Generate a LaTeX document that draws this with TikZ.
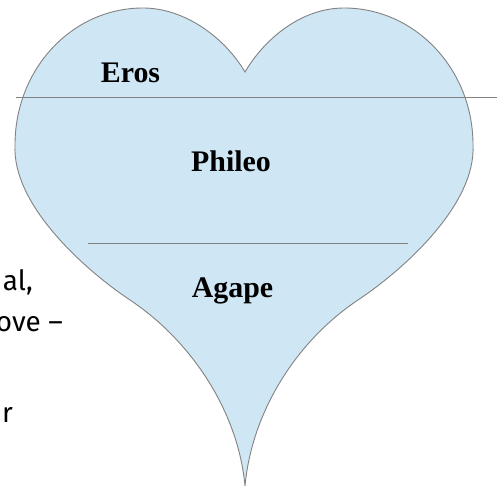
\documentclass[tikz,border=0pt]{standalone}
\usepackage{fontspec}
\setmainfont{Liberation Serif}
\newfontfamily\sidefont{Fira Sans}
\definecolor{heartfill}{RGB}{207,230,244}
\definecolor{heartline}{RGB}{130,130,130}
\begin{document}
\begin{tikzpicture}[x=1bp,y=-1bp,
  lbl/.style={font=\fontsize{30}{36}\selectfont\bfseries, inner sep=0pt, anchor=base},
  side/.style={font=\sidefont\fontsize{28}{34}\selectfont, inner sep=0pt, anchor=base east},
  divider/.style={draw=heartline, line width=0.9bp}]
\useasboundingbox (0,0) rectangle (497,487);
\path[fill=heartfill, draw=heartline, line width=0.9bp]
  (245,486) .. controls (238,410) and (190,340) .. (130,300)
  .. controls (85,270) and (12,205) .. (15,145)
  .. controls (15,69) and (72,8) .. (143,8)
  .. controls (185,8) and (225,38) .. (245,72)
  .. controls (265,38) and (302,8) .. (344,8)
  .. controls (415,8) and (473,69) .. (473,145)
  .. controls (476,205) and (403,270) .. (358,300)
  .. controls (298,340) and (252,410) .. (245,486) -- cycle;
\coordinate (d1a) at (16,97);
\coordinate (d1b) at (497,97);
\coordinate (d2a) at (88,243);
\coordinate (d2b) at (408,243);
\draw[divider] (d1a) -- (d1b);
\draw[divider] (d2a) -- (d2b);
\node[lbl] (eros) at (130.5,83) {Eros};
\node[lbl] (phileo) at (231,172) {Phileo};
\node[lbl] (agape) at (232.5,297) {Agape};
\node[side] (t1) at (33,290) {al,};
\node[side] (t2) at (63,331) {ove –};
\node[side] (t3) at (13,422) {r};
\end{tikzpicture}
\end{document}
